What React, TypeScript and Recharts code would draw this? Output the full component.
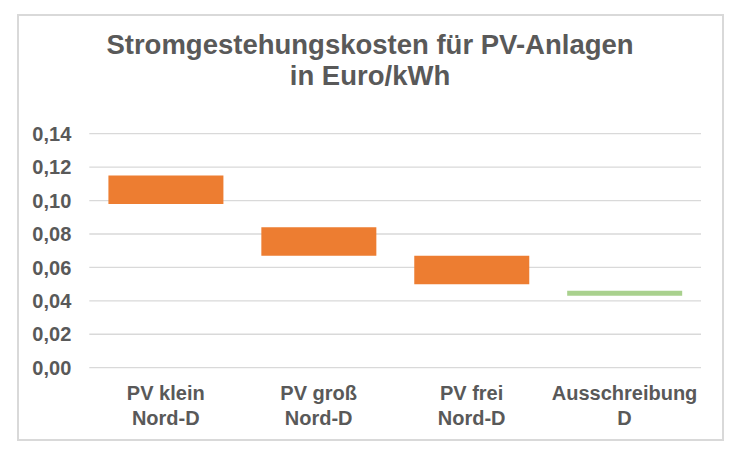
import React from 'react';
import { BarChart, Bar, XAxis, YAxis, CartesianGrid, Cell } from 'recharts';

const categories = ['PV klein|Nord-D', 'PV groß|Nord-D', 'PV frei|Nord-D', 'Ausschreibung|D'];
const lowValues = [0.098, 0.067, 0.050, 0.043];
const highValues = [0.115, 0.084, 0.067, 0.046];
const barColors = ['#ED7D31', '#ED7D31', '#ED7D31', '#A9D18E'];
const yTicks = [0, 0.02, 0.04, 0.06, 0.08, 0.1, 0.12, 0.14];
const titleLines = ['Stromgestehungskosten für PV-Anlagen', 'in Euro/kWh'];

const data = categories.map((c, i) => ({
  name: c,
  base: lowValues[i],
  range: highValues[i] - lowValues[i],
}));

const FONT = '"Liberation Sans", Arial, sans-serif';
const TEXT = '#595959';

const XTick = (props: any) => {
  const { x, y, payload } = props;
  const lines = String(payload.value).split('|');
  return (
    <g>
      {lines.map((l: string, i: number) => (
        <text
          key={i}
          x={x}
          y={y + 32 + i * 25}
          textAnchor="middle"
          fill={TEXT}
          fontFamily={FONT}
          fontWeight="bold"
          fontSize={20}
        >
          {l}
        </text>
      ))}
    </g>
  );
};

export default function App() {
  return (
    <div style={{ position: 'absolute', left: 0, top: 0, width: 738, height: 450, background: '#fff' }}>
      <div
        style={{
          position: 'absolute',
          left: 17,
          top: 14,
          width: 707,
          height: 427,
          boxSizing: 'border-box',
          border: '2px solid #D9D9D9',
        }}
      />
      {titleLines.map((t, i) => (
        <div
          key={i}
          style={{
            position: 'absolute',
            left: 0,
            width: 740,
            top: 30 + i * 31,
            textAlign: 'center',
            fontFamily: FONT,
            fontWeight: 'bold',
            fontSize: 27.5,
            lineHeight: '30px',
            color: TEXT,
          }}
        >
          {t}
        </div>
      ))}
      <div style={{ position: 'absolute', left: 0, top: 0 }}>
        <BarChart
          width={738}
          height={450}
          data={data}
          margin={{ top: 133.7, right: 37, bottom: 2.3, left: 0 }}
          barCategoryGap="12.5%"
        >
          <CartesianGrid vertical={false} stroke="#D9D9D9" strokeWidth={1.3} />
          <XAxis
            dataKey="name"
            axisLine={false}
            tickLine={false}
            tickSize={0}
            tickMargin={0}
            height={80}
            interval={0}
            tick={<XTick />}
          />
          <YAxis
            width={89.3}
            domain={[0, 0.14]}
            ticks={yTicks}
            axisLine={false}
            tickLine={false}
            tickSize={0}
            tickMargin={18}
            tickFormatter={(v: number) => v.toFixed(2).replace('.', ',')}
            tick={{ fill: TEXT, fontFamily: FONT, fontWeight: 'bold', fontSize: 20 }}
          />
          <Bar dataKey="base" stackId="a" fill="transparent" isAnimationActive={false} />
          <Bar dataKey="range" stackId="a" isAnimationActive={false}>
            {data.map((d, i) => (
              <Cell key={i} fill={barColors[i]} />
            ))}
          </Bar>
        </BarChart>
      </div>
    </div>
  );
}
